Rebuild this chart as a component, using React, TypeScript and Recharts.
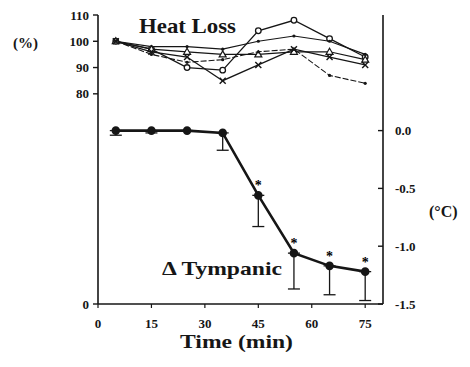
import { LineChart, Line, XAxis, YAxis, ErrorBar, LabelList, Customized } from "recharts";

const times = [5, 15, 25, 35, 45, 55, 65, 75];
const xTicks = [0, 15, 30, 45, 60, 75];
const pctTicks = [0, 80, 90, 100, 110];
const degTicks = [-1.5, -1.0, -0.5, 0.0];

// heat loss (% of baseline), five subjects
const hlCircle = [100, 97, 90, 89, 104, 108, 101, 94];
const hlDot = [100, 98, 98, 97, 100, 102, 100, 95];
const hlTri = [100, 97, 96, 95, 95, 96, 96, 93];
const hlCross = [100, 96, 94, 85, 91, 97, 94, 91];
const hlDash = [100, 95, 92, 93, 96, 97, 87, 84];

// delta tympanic temperature (°C), mean and lower error
const tympanic = [0.0, 0.0, 0.0, -0.02, -0.56, -1.06, -1.17, -1.22];
const tympErrDown = [0.04, 0.02, 0.0, 0.15, 0.27, 0.31, 0.25, 0.25];
const significant = [false, false, false, false, true, true, true, true];

const data = times.map((t, i) => ({
  t,
  circle: hlCircle[i],
  dot: hlDot[i],
  tri: hlTri[i],
  cross: hlCross[i],
  dash: hlDash[i],
  tymp: tympanic[i],
  tympErr: [tympErrDown[i], 0],
  star: significant[i] ? "*" : "",
}));

const INK = "#161616";
const FONT = "'Liberation Serif', 'DejaVu Serif', serif";
const tickStyle = { fill: INK, fontSize: 13, fontWeight: 700, fontFamily: FONT };

const CrossDot = ({ cx, cy }: any) =>
  cx == null ? null : (
    <g stroke={INK} strokeWidth={1.4}>
      <line x1={cx - 3} y1={cy - 3} x2={cx + 3} y2={cy + 3} />
      <line x1={cx - 3} y1={cy + 3} x2={cx + 3} y2={cy - 3} />
    </g>
  );
const CircleDot = ({ cx, cy }: any) =>
  cx == null ? null : <circle cx={cx} cy={cy} r={2.8} fill="#fff" stroke={INK} strokeWidth={1.3} />;
const TriDot = ({ cx, cy }: any) =>
  cx == null ? null : (
    <path d={`M${cx},${cy - 3.5}L${cx + 3.5},${cy + 2.5}L${cx - 3.5},${cy + 2.5}Z`} fill="#fff" stroke={INK} strokeWidth={1.2} />
  );
const SmallDot = ({ cx, cy }: any) =>
  cx == null ? null : <circle cx={cx} cy={cy} r={1.6} fill={INK} />;

const Star = ({ x, y, width, value }: any) =>
  value ? (
    <text x={x + (width || 0) / 2} y={y - 5} textAnchor="middle" fontSize={14} fontWeight={700} fontFamily={FONT} style={{ fill: "#000" }}>
      {value}
    </text>
  ) : null;

// right axis: tick mark points inward, label outside
const RightTick = ({ x, y, payload }: any) => (
  <g>
    <line x1={x - 12} y1={y} x2={x - 17} y2={y} stroke={INK} strokeWidth={1.4} />
    <text x={x} y={y} dy={4.5} {...tickStyle}>{payload.value.toFixed(1)}</text>
  </g>
);

const Texts = () => (
  <g fill={INK} fontFamily={FONT} fontWeight={700}>
    <text x={139} y={33} fontSize={21} textLength={97} lengthAdjust="spacingAndGlyphs">Heat Loss</text>
    <text x={13} y={48} fontSize={15}>(%)</text>
    <text x={429} y={217} fontSize={16}>(°C)</text>
    <text x={162} y={275} fontSize={19} textLength={120} lengthAdjust="spacingAndGlyphs">Δ Tympanic</text>
    <text x={180} y={348} fontSize={18} textLength={113} lengthAdjust="spacingAndGlyphs">Time (min)</text>
  </g>
);

export default function App() {
  return (
    <div style={{ position: "absolute", left: 0, top: 0, background: "#fff" }}>
      <LineChart width={470} height={367} data={data} margin={{ top: 15, right: 0, bottom: 0, left: 0 }}>
        <XAxis
          type="number"
          dataKey="t"
          domain={[0, 80]}
          ticks={xTicks}
          height={63}
          tick={tickStyle}
          tickSize={4}
          tickMargin={11}
          axisLine={{ stroke: INK, strokeWidth: 1.6 }}
          tickLine={{ stroke: INK, strokeWidth: 1.2 }}
        />
        <YAxis
          yAxisId="left"
          domain={[0, 110]}
          ticks={pctTicks}
          width={98}
          tick={tickStyle}
          tickSize={5}
          tickMargin={4}
          axisLine={{ stroke: INK, strokeWidth: 1.6 }}
          tickLine={{ stroke: INK, strokeWidth: 1.4 }}
        />
        <YAxis
          yAxisId="right"
          orientation="right"
          domain={[-1.5, 1.0]}
          ticks={degTicks}
          width={87}
          tick={<RightTick />}
          tickSize={0}
          tickMargin={12}
          tickLine={false}
          axisLine={{ stroke: INK, strokeWidth: 1.6 }}
        />
        <Line yAxisId="left" dataKey="circle" stroke={INK} strokeWidth={1.3} dot={<CircleDot />} isAnimationActive={false} />
        <Line yAxisId="left" dataKey="dot" stroke={INK} strokeWidth={1.2} dot={<SmallDot />} isAnimationActive={false} />
        <Line yAxisId="left" dataKey="tri" stroke={INK} strokeWidth={1.2} dot={<TriDot />} isAnimationActive={false} />
        <Line yAxisId="left" dataKey="cross" stroke={INK} strokeWidth={1.3} dot={<CrossDot />} isAnimationActive={false} />
        <Line yAxisId="left" dataKey="dash" stroke={INK} strokeWidth={1.1} strokeDasharray="6 2" dot={<SmallDot />} isAnimationActive={false} />
        <Line yAxisId="right" dataKey="tymp" stroke={INK} strokeWidth={2.6} dot={{ r: 3, fill: INK, stroke: INK }} isAnimationActive={false}>
          <ErrorBar dataKey="tympErr" direction="y" width={6} stroke={INK} strokeWidth={1.3} />
          <LabelList dataKey="star" content={<Star />} />
        </Line>
        <Customized component={Texts} />
      </LineChart>
    </div>
  );
}
